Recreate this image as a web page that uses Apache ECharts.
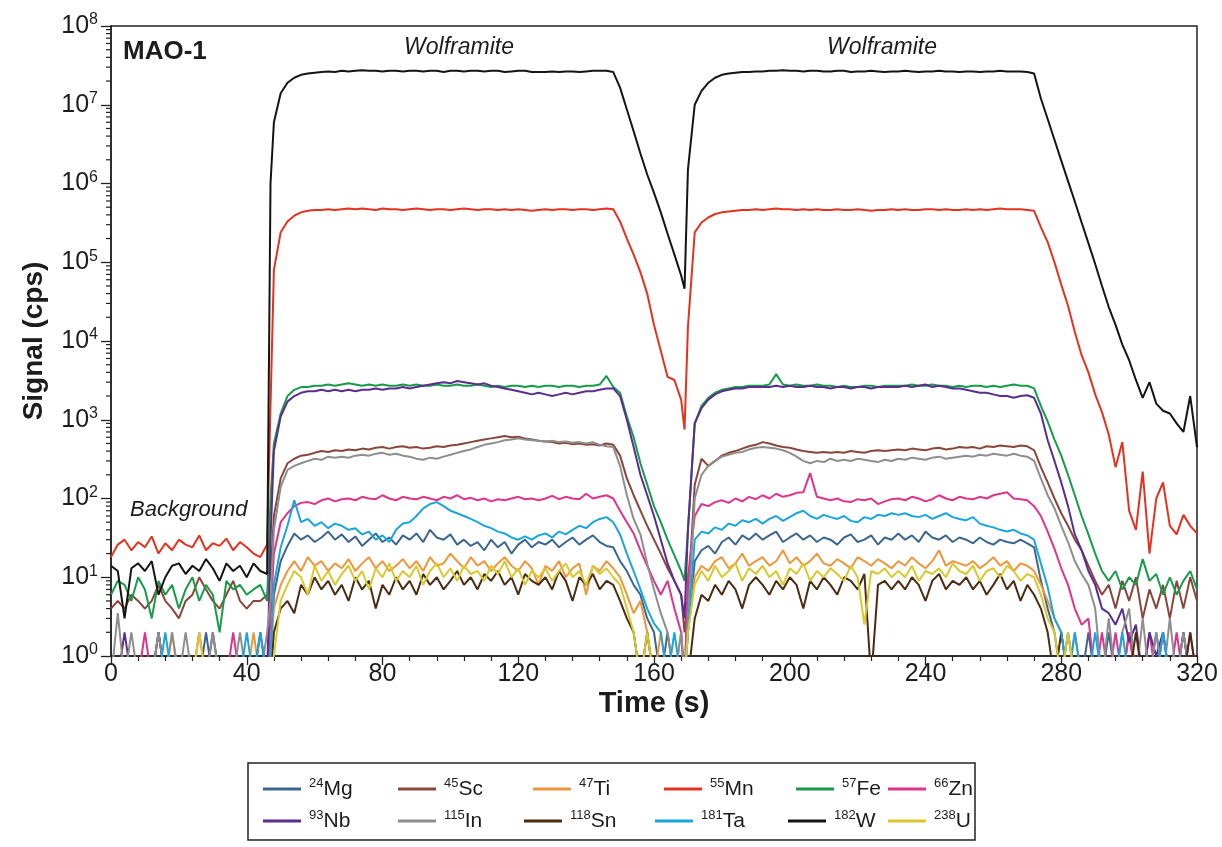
<!DOCTYPE html>
<html><head><meta charset="utf-8">
<script src="https://cdn.jsdelivr.net/npm/echarts@6/dist/echarts.min.js"></script>
<style>html,body{margin:0;padding:0;background:#fff}#c{width:1222px;height:847px}</style>
</head><body><div id="c"></div>
<script>
// time (s)
const time = [0,2,4,6,8,10,12,14,16,18,20,22,24,26,28,30,32,34,36,38,40,42,44,46,
 47,
 48,50,52,54,56,58,60,62,64,66,68,70,72,74,76,78,80,82,84,86,88,90,92,94,96,98,100,102,104,106,
 108,110,112,114,116,118,120,122,124,126,128,130,132,134,136,138,140,142,144,146,148,
 150,152,154,156,158,160,162,164,166,168,
 169,
 170,172,174,176,178,180,182,184,186,188,190,192,194,196,198,200,202,204,206,208,210,
 212,214,216,218,220,222,224,226,228,230,232,234,236,238,240,242,244,246,248,250,
 252,254,256,258,260,262,264,266,268,270,272,
 274,276,278,280,282,284,286,288,290,292,294,296,298,300,302,304,306,308,310,312,314,316,318,320];

const Mg = [
 0.5,0.5,0.5,0.5,0.5,0.5,0.5,2,0.5,0.5, 0.5,0.5,0.5,0.5,2,0.5,0.5,0.5,0.5,0.5, 0.5,0.5,0.5,0.5,
 1,
 6,16,25,36,30,34,28,32,38,30, 35,28,33,25,30,36,28,32,26,34, 30,36,28,40,32,30,35,26,30,25,
 28,22,30,24,28,20,26,30,24,28, 26,30,24,28,32,26,30,34,28,25,24,
 16,12,8,6,3,2,0.5,2,0.5,0.5,
 0.5,
 2,
 16,22,25,20,28,32,26,34,30,36, 30,34,38,28,32,36,30,34,28,32, 30,26,32,35,28,30,34,26,32,30,
 36,30,34,28,38,32,30,34,28,32, 30,27,32,28,26,30,28,27,30,27,24,
 9,4,2,0.5,2,0.5,0.5,2,0.5,0.5, 2,0.5,0.5,2,0.5,0.5,0.5,2,0.5,0.5, 0.5,2,0.5,0.5];

const Sc = [
 4,5,4,6,5,4,5,8,5,4, 3,5,6,10,7,5,4,6,9,5, 4,5,5,6,
 10,
 60,180,280,320,350,360,380,400,390,410, 400,420,410,430,420,440,450,430,450,460, 440,450,430,440,460,450,470,480,500,520,
 540,560,580,600,620,600,610,580,560,540, 530,520,500,510,490,500,480,490,470,500,480,
 350,180,110,70,45,30,20,13,9,6,
 2,
 5,
 150,320,260,300,350,380,400,430,460,480, 520,500,470,450,440,420,400,390,380,390, 380,390,380,400,390,380,400,410,400,410,
 420,410,430,420,410,430,440,420,430,450, 440,450,430,460,450,470,460,450,470,460,410,
 250,160,100,65,45,30,22,14,9,6, 8,4,9,5,10,3,7,4,8,3, 9,4,10,5];

const Ti = [
 0.5,0.5,0.5,0.5,0.5,0.5,0.5,0.5,0.5,2, 0.5,0.5,0.5,0.5,0.5,0.5,0.5,0.5,0.5,0.5, 0.5,2,0.5,0.5,
 1,
 4,8,12,16,12,18,14,16,12,15, 13,17,12,15,18,13,16,12,14,17, 13,16,12,18,14,15,20,16,13,18,
 14,16,12,15,18,14,12,16,13,8, 14,12,16,10,13,15,6,14,12,16,13,
 10,6,3.5,5,2,0.5,2,0.5,0.5,2,
 0.5,
 2,
 10,14,12,16,18,13,15,20,14,16, 18,14,16,22,15,18,14,16,20,15, 14,17,15,13,18,16,14,17,15,13,
 16,14,18,15,13,16,22,14,16,15, 14,16,13,15,18,14,16,12,15,14,12,
 8,5,3,2,0.5,2,0.5,0.5,0.5,0.5, 0.5,0.5,0.5,2,0.5,0.5,0.5,0.5,0.5,0.5, 0.5,0.5,0.5,0.5];

const Mn = [
 18,26,30,22,28,24,33,20,27,22, 30,26,24,34,22,27,25,31,22,28, 24,20,18,26,
 1.5e3,
 8e4,2.4e5,3.3e5,3.9e5,4.3e5,4.5e5,4.6e5,4.6e5,4.7e5,4.6e5, 4.7e5,4.8e5,4.7e5,4.8e5,4.7e5,4.6e5,4.8e5,4.7e5,4.7e5,4.6e5,
 4.7e5,4.8e5,4.7e5,4.6e5,4.7e5,4.7e5,4.6e5,4.7e5,4.8e5,4.7e5, 4.6e5,4.7e5,4.7e5,4.6e5,4.7e5,4.6e5,4.7e5,4.6e5,4.5e5,4.6e5,
 4.7e5,4.6e5,4.7e5,4.7e5,4.6e5,4.7e5,4.7e5,4.6e5,4.7e5,4.8e5,4.7e5,
 3.3e5,2.0e5,1.25e5,7.5e4,4.0e4,1.6e4,7.5e3,3.5e3,3.2e3,1.8e3,
 750,
 1.5e4,
 2.4e5,3.2e5,3.7e5,4.1e5,4.3e5,4.4e5,4.5e5,4.6e5,4.6e5,4.7e5, 4.6e5,4.7e5,4.8e5,4.7e5,4.7e5,4.6e5,4.7e5,4.6e5,4.7e5,4.6e5,
 4.6e5,4.7e5,4.6e5,4.6e5,4.7e5,4.6e5,4.5e5,4.6e5,4.6e5,4.7e5, 4.6e5,4.7e5,4.6e5,4.6e5,4.7e5,4.7e5,4.6e5,4.7e5,4.6e5,4.6e5,
 4.7e5,4.6e5,4.7e5,4.6e5,4.7e5,4.8e5,4.7e5,4.7e5,4.7e5,4.6e5,4.5e5,
 2.8e5,1.8e5,1.0e5,5.2e4,2.8e4,1.3e4,6.6e3,4.0e3,2.1e3,1.25e3, 650,250,520,70,40,220,20,100,160,45, 35,62,45,36];

const Fe = [
 6,9,8,5,10,7,3,9,6,8, 4,7,10,5,8,6,2,9,7,8, 6,7,8,5,
 100,
 500,1.2e3,2.0e3,2.4e3,2.6e3,2.6e3,2.7e3,2.7e3,2.8e3,2.7e3, 2.8e3,2.9e3,2.8e3,2.7e3,2.8e3,2.7e3,2.8e3,2.7e3,2.7e3,2.8e3,
 2.7e3,2.8e3,2.7e3,2.7e3,2.8e3,2.7e3,2.7e3,2.8e3,2.7e3,2.7e3, 2.8e3,2.7e3,2.6e3,2.7e3,2.6e3,2.7e3,2.7e3,2.6e3,2.7e3,2.6e3,
 2.7e3,2.7e3,2.6e3,2.7e3,2.7e3,2.6e3,2.7e3,2.7e3,2.8e3,3.6e3,2.6e3,
 2.2e3,1.1e3,600,280,150,80,50,30,19,12,
 9,
 40,
 900,1.5e3,1.9e3,2.2e3,2.4e3,2.5e3,2.6e3,2.6e3,2.7e3,2.7e3, 2.7e3,2.8e3,3.8e3,2.8e3,2.7e3,2.8e3,2.7e3,2.7e3,2.8e3,2.7e3,
 2.7e3,2.6e3,2.7e3,2.6e3,2.6e3,2.7e3,2.7e3,2.6e3,2.7e3,2.7e3, 2.7e3,2.7e3,2.8e3,2.7e3,2.7e3,2.8e3,2.7e3,2.7e3,2.6e3,2.7e3,
 2.6e3,2.7e3,2.7e3,2.6e3,2.7e3,2.6e3,2.7e3,2.8e3,2.7e3,2.7e3,2.5e3,
 1.5e3,950,560,350,200,110,60,35,20,12, 9,12,7,10,8,17,9,11,6,10, 6,9,12,7];

const Zn = [
 0.5,0.5,0.5,0.5,0.5,2,0.5,0.5,0.5,0.5, 0.5,0.5,0.5,2,0.5,0.5,0.5,0.5,2,0.5, 0.5,0.5,0.5,0.5,
 3,
 20,50,65,80,88,90,85,95,100,92, 98,100,95,105,100,98,110,100,95,105, 100,98,105,100,95,105,100,110,98,102,
 95,100,92,98,95,100,105,98,100,95, 100,108,98,105,100,98,115,100,105,110,100,
 70,50,36,22,14,9,6,9,4,2,
 0.5,
 10,
 60,85,80,90,95,88,100,92,105,98, 110,100,115,105,110,118,120,210,105,100, 95,100,92,90,98,95,100,85,92,98,
 100,95,105,100,92,98,110,100,95,105, 100,98,105,100,110,115,120,100,98,95,80,
 60,38,23,13,8,4,2.5,3,0.5,2, 0.5,2,0.5,2,0.5,0.5,2,0.5,2,0.5, 2,0.5,2,0.5];

const Nb = [
 0.5,0.5,2,0.5,0.5,0.5,0.5,2,0.5,0.5, 0.5,0.5,0.5,0.5,0.5,2,0.5,0.5,0.5,0.5, 0.5,0.5,2,0.5,
 30,
 400,1.1e3,1.7e3,2.0e3,2.2e3,2.3e3,2.3e3,2.4e3,2.3e3,2.4e3, 2.3e3,2.4e3,2.3e3,2.4e3,2.4e3,2.5e3,2.4e3,2.5e3,2.5e3,2.6e3,
 2.5e3,2.6e3,2.7e3,2.8e3,2.9e3,3.0e3,2.9e3,3.1e3,3.0e3,2.9e3, 2.8e3,2.9e3,2.7e3,2.6e3,2.5e3,2.4e3,2.3e3,2.2e3,2.1e3,2.2e3,
 2.1e3,2.0e3,2.1e3,2.2e3,2.1e3,2.2e3,2.3e3,2.3e3,2.4e3,2.5e3,2.5e3,
 2.0e3,1.0e3,450,200,110,60,30,15,9,6,
 3,
 40,
 900,1.4e3,1.8e3,2.1e3,2.3e3,2.4e3,2.5e3,2.5e3,2.6e3,2.6e3, 2.6e3,2.6e3,2.7e3,2.6e3,2.7e3,2.6e3,2.6e3,2.7e3,2.6e3,2.6e3,
 2.5e3,2.6e3,2.6e3,2.5e3,2.6e3,2.6e3,2.5e3,2.6e3,2.6e3,2.6e3, 2.6e3,2.7e3,2.6e3,2.7e3,2.8e3,2.6e3,2.7e3,2.6e3,2.5e3,2.5e3,
 2.4e3,2.3e3,2.2e3,2.2e3,2.1e3,2.0e3,2.0e3,1.9e3,2.0e3,2.05e3,1.9e3,
 1.2e3,550,300,160,80,35,22,12,8,4, 3.5,2.5,4,1.5,2.5,0.5,2,1,2,0.5, 0.5,2,0.5,0.5];

const In = [
 0.5,3.5,0.5,2,0.5,0.5,0.5,2,0.5,2, 0.5,2,0.5,0.5,0.5,2,0.5,0.5,0.5,2, 0.5,0.5,0.5,2,
 5,
 40,140,230,260,280,300,320,310,340,330, 340,330,350,360,350,370,380,360,370,350, 340,320,310,330,320,340,360,380,400,420,
 450,480,500,520,550,560,580,560,550,540, 530,540,520,530,510,520,500,520,480,460,450,
 260,110,55,35,15,7,3.5,2,0.5,2,
 0.5,
 3,
 100,200,260,300,340,360,380,390,420,440, 450,440,430,410,380,340,300,280,300,290, 320,300,310,300,320,310,300,290,310,300,
 320,310,330,320,310,330,340,320,330,340, 350,340,360,350,370,360,350,370,350,340,300,
 180,110,75,45,28,16,11,8,4,0.5, 3,0.5,2,4,0.5,3,0.5,2,0.5,3, 0.5,2,0.5,0.5];

const Sn = [
 0.5,0.5,0.5,0.5,0.5,0.5,0.5,0.5,0.5,0.5, 0.5,0.5,0.5,0.5,0.5,0.5,0.5,0.5,0.5,0.5, 0.5,0.5,0.5,0.5,
 0.5,
 2,4,5,3.5,8,6,10,7,9,6, 8,5,10,7,9,4,8,6,10,7, 9,6,11,8,10,7,9,12,8,10,
 7,11,9,12,8,10,6,11,9,8, 10,7,12,9,5,10,8,11,7,9,8,
 5,3,2,0.5,2,0.5,0.5,0.5,0.5,0.5,
 0.5,
 0.5,
 3,6,5,8,6,9,7,4,8,10, 8,6,9,7,10,8,4,9,7,10, 8,6,10,9,7,11,0.5,8,9,7,
 9,7,10,8,5,9,11,7,9,8, 10,7,9,6,8,11,7,9,5,8,6,
 4,2,0.5,2,0.5,0.5,0.5,0.5,0.5,0.5, 0.5,0.5,0.5,0.5,2,0.5,0.5,0.5,0.5,0.5, 0.5,0.5,2,0.5];

const Ta = [
 0.5,0.5,0.5,0.5,0.5,0.5,0.5,0.5,2,0.5, 0.5,0.5,0.5,0.5,0.5,0.5,0.5,0.5,0.5,0.5, 2,0.5,2,0.5,
 1,
 8,24,45,95,50,55,45,50,42,48, 45,40,42,35,38,30,34,28,40,48, 50,60,75,85,90,80,70,65,60,55,
 50,45,42,38,36,32,30,33,30,34, 36,32,38,35,40,45,42,50,55,58,50,
 35,20,12,7,4,2.6,2,0.5,2,0.5,
 0.5,
 2,
 30,38,36,43,40,48,45,53,50,55, 48,55,60,52,58,65,70,60,55,62, 58,55,60,52,50,58,55,62,60,65,
 62,65,60,58,62,55,60,65,58,55, 53,58,48,45,43,40,38,40,36,34,30,
 15,7.5,3,2,0.5,2,0.5,0.5,2,0.5, 0.5,0.5,2,0.5,0.5,0.5,0.5,0.5,2,0.5, 0.5,0.5,0.5,0.5];

const W = [
 14,12,3,13,15,12,16,6,10,14, 15,11,14,12,17,13,9,15,12,14, 10,15,12,11,
 1e6,
 6e6,1.4e7,1.9e7,2.2e7,2.4e7,2.5e7,2.55e7,2.6e7,2.65e7,2.6e7, 2.7e7,2.65e7,2.7e7,2.75e7,2.7e7,2.7e7,2.65e7,2.7e7,2.7e7,2.65e7,
 2.7e7,2.7e7,2.65e7,2.7e7,2.7e7,2.6e7,2.7e7,2.7e7,2.65e7,2.7e7, 2.7e7,2.65e7,2.7e7,2.7e7,2.6e7,2.65e7,2.7e7,2.7e7,2.6e7,2.6e7,
 2.6e7,2.65e7,2.6e7,2.65e7,2.65e7,2.6e7,2.65e7,2.7e7,2.7e7,2.7e7,2.6e7,
 1.65e7,8.7e6,4.6e6,2.4e6,1.3e6,7.6e5,4.3e5,2.3e5,1.26e5,6.8e4,
 4.6e4,
 1.5e6,
 1.0e7,1.5e7,1.9e7,2.2e7,2.4e7,2.5e7,2.55e7,2.6e7,2.6e7,2.65e7, 2.65e7,2.7e7,2.7e7,2.75e7,2.7e7,2.7e7,2.65e7,2.7e7,2.7e7,2.65e7,
 2.65e7,2.7e7,2.7e7,2.6e7,2.65e7,2.65e7,2.7e7,2.65e7,2.6e7,2.65e7, 2.65e7,2.7e7,2.65e7,2.6e7,2.65e7,2.65e7,2.7e7,2.65e7,2.65e7,2.6e7,
 2.65e7,2.65e7,2.6e7,2.65e7,2.65e7,2.7e7,2.65e7,2.65e7,2.65e7,2.6e7,2.5e7,
 1.2e7,6.6e6,3.6e6,1.95e6,1.07e6,5.9e5,3.2e5,1.75e5,9.5e4,5.0e4, 2.7e4,1.6e4,9.0e3,5.7e3,3.2e3,1.9e3,3.0e3,1.6e3,1.3e3,1.2e3, 900,700,2.0e3,450];

const U = [
 0.5,0.5,0.5,0.5,0.5,0.5,0.5,0.5,0.5,0.5, 0.5,0.5,0.5,2,0.5,0.5,0.5,0.5,0.5,0.5, 0.5,0.5,0.5,0.5,
 0.5,
 1,5,8,12,10,6,14,9,12,8, 11,14,9,12,7,13,10,15,9,12, 10,14,8,12,15,10,13,9,14,11,
 12,9,14,11,16,10,13,8,12,10, 13,9,12,15,10,12,8,14,11,13,10,
 8,4,2,0.5,2,0.5,0.5,0.5,0.5,0.5,
 0.5,
 2,
 8,12,9,14,10,12,15,9,13,11, 14,10,12,8,13,11,15,9,12,10, 13,11,9,14,10,2.5,12,11,13,10,
 12,10,14,9,12,11,13,10,15,12, 11,14,9,12,13,10,14,12,9,11,10,
 6,3,2,0.5,2,0.5,0.5,0.5,0.5,0.5, 0.5,0.5,0.5,0.5,0.5,0.5,0.5,0.5,0.5,0.5, 0.5,0.5,0.5,0.5];

const names = ['Mg','Sc','Ti','Mn','Fe','Zn','Nb','In','Sn','Ta','W','U'];
const isotopes = ['24','45','47','55','57','66','93','115','118','181','182','238'];
const seriesValues = [Mg,Sc,Ti,Mn,Fe,Zn,Nb,In,Sn,Ta,W,U];
const colors = ['#3b6690','#8a463a','#f0963a','#e5321f','#179c4a','#e0338c',
                '#5a2d8e','#8e8e8e','#4b2c12','#1aa6dc','#141414','#d9c82e'];
const annotations = [
  {text:'MAO-1', x:123, y:52, weight:'bold', style:'normal', size:26, align:'left'},
  {text:'Wolframite', x:459, y:48, weight:'normal', style:'italic', size:23, align:'center'},
  {text:'Wolframite', x:882, y:48, weight:'normal', style:'italic', size:23, align:'center'},
  {text:'Background', x:130, y:510, weight:'normal', style:'italic', size:22, align:'left'}
];

seriesValues.forEach((a,i)=>{ if(a.length!==time.length) throw new Error(names[i]+' length '+a.length+' vs '+time.length); });

const isoOf = {}; names.forEach((n,i)=>isoOf[n]=isotopes[i]);
const FONT = "'Liberation Sans', Arial, sans-serif";
const TXT = '#1c1c1c';

// legend layout (item left edges, row tops)
const legendLeft = [263,398,533,664,796,888, 263,398,524,655,788,888];
const legendTop = [777,777,777,777,777,777, 809,809,809,809,809,809];

// minor tick values for log axis (2..9 per decade)
const minorTicks = [];
for (let k=0;k<8;k++) for (let m=2;m<=9;m++) minorTicks.push([0, m*Math.pow(10,k)]);

const lineSeries = names.map((n,i)=>({
  name:n, type:'line', showSymbol:false, symbol:'none',
  data: time.map((t,j)=>[t, seriesValues[i][j]]),
  lineStyle:{width:2, color:colors[i]}, itemStyle:{color:colors[i]},
  silent:true, animation:false, z:2+i
}));

lineSeries.push({
  type:'custom', silent:true, clip:false, animation:false, z:20,
  data: minorTicks,
  renderItem:(params, api)=>{
    const p = api.coord([api.value(0), api.value(1)]);
    return {type:'line', shape:{x1:p[0]-5, y1:p[1], x2:p[0], y2:p[1]},
            style:{stroke:'#222', lineWidth:1.2}};
  }
});

const legendRich = {
  sup:{fontSize:13, lineHeight:11, verticalAlign:'top', color:TXT, fontFamily:FONT},
  el:{fontSize:21, lineHeight:24, color:TXT, fontFamily:FONT}
};
const legends = names.map((n,i)=>({
  data:[n], left:legendLeft[i], top:legendTop[i], orient:'horizontal', icon:'rect',
  itemWidth:38, itemHeight:3, itemGap:0, padding:0, selectedMode:false,
  formatter: nm => '{sup|'+isoOf[nm]+'}{el|'+nm+'}',
  textStyle:{rich:legendRich, padding:[0,0,0,3]}
}));

const chart = echarts.init(document.getElementById('c'), null, {renderer:'canvas'});
chart.setOption({
  animation:false,
  backgroundColor:'#fff',
  grid:{left:111, right:25, top:26, bottom:191, show:true, borderColor:'#222', borderWidth:1.5, backgroundColor:'transparent'},
  xAxis:{
    type:'value', min:0, max:320, interval:40,
    name:'Time (s)', nameLocation:'middle', nameGap:33, nameMoveOverlap:false,
    nameTextStyle:{fontSize:29, fontWeight:'bold', color:TXT, fontFamily:FONT},
    axisLine:{show:true, lineStyle:{color:'#222', width:1.5}},
    axisTick:{show:true, inside:false, length:9, lineStyle:{color:'#222', width:1.3}},
    minorTick:{show:true, splitNumber:5, length:5, lineStyle:{color:'#222', width:1.2}},
    axisLabel:{fontSize:25, color:TXT, fontFamily:FONT, margin:6},
    splitLine:{show:false}
  },
  yAxis:{
    type:'log', logBase:10, min:1, max:1e8, splitNumber:8,
    name:'Signal (cps)', nameLocation:'middle', nameGap:63, nameMoveOverlap:false,
    nameTextStyle:{fontSize:28, fontWeight:'bold', color:TXT, fontFamily:FONT},
    axisLine:{show:true, lineStyle:{color:'#222', width:1.5}},
    axisTick:{show:true, inside:false, length:10, lineStyle:{color:'#222', width:1.3}},
    axisLabel:{
      margin:13, color:TXT,
      formatter: v => '{b|10}{s|'+Math.round(Math.log10(v))+'}',
      rich:{
        b:{fontSize:25, lineHeight:28, color:TXT, fontFamily:FONT},
        s:{fontSize:16, lineHeight:12, verticalAlign:'top', color:TXT, fontFamily:FONT}
      }
    },
    splitLine:{show:false}
  },
  legend: legends,
  graphic:[
    {type:'rect', shape:{x:248, y:763, width:727, height:77}, style:{fill:'none', stroke:'#222', lineWidth:1.5}, silent:true},
    ...annotations.map(a=>({
      type:'text', x:a.x, y:a.y, silent:true,
      style:{text:a.text, fontSize:a.size, fontWeight:a.weight, fontStyle:a.style, fontFamily:FONT,
             fill:TXT, textAlign:a.align, textVerticalAlign:'middle'}
    }))
  ],
  series: lineSeries
});
</script>
</body></html>
